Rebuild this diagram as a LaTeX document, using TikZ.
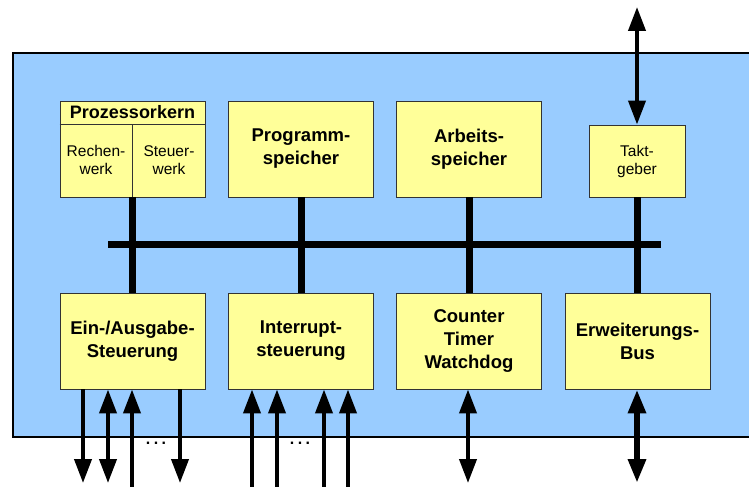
\documentclass[tikz,border=0pt]{standalone}
\usepackage{fontspec}
\setmainfont{Liberation Sans}
\usetikzlibrary{arrows.meta}
\definecolor{chipblue}{HTML}{99CCFF}
\definecolor{unityellow}{HTML}{FFFF99}

\begin{document}
\begin{tikzpicture}[x=1pt,y=-1pt,
  unit/.style={draw=black!80, line width=0.9pt, fill=unityellow,
    minimum width=145pt, minimum height=96pt, inner sep=0pt, align=center,
    font=\fontsize{18.5}{23}\selectfont\bfseries},
  smalltext/.style={font=\fontsize{15.5}{18}\selectfont, align=center, inner sep=0pt},
  dots/.style={font=\fontsize{16}{16}\selectfont\bfseries, inner sep=0pt},
  bus/.style={line width=7pt},
  sigout/.style={line width=4pt, -{Triangle[width=17pt,length=24pt]}},
  sigin/.style={line width=4pt, {Triangle[width=17pt,length=24pt]}-},
  sigboth/.style={line width=4pt, {Triangle[width=17pt,length=24pt]}-{Triangle[width=17pt,length=24pt]}},
]
\useasboundingbox (0,0) rectangle (749,487);
\clip (0,0) rectangle (749,487);

% chip outline
\draw[line width=2pt, fill=chipblue] (13,53) rectangle (760,437);

% internal bus
\coordinate (busL) at (108,244);
\coordinate (busR) at (661,244);
\draw[bus] (busL) -- (busR);

% functional units
\node[unit] (pk) at (132.5,149) {};
\node[unit] (ps) at (301,149) {Programm-\\speicher};
\node[unit] (as) at (469,149) {Arbeits-\\speicher};
\node[unit, minimum width=96pt, minimum height=72pt, font=\fontsize{15.5}{18}\selectfont] (tg) at (637,161) {Takt-\\geber};
\node[unit] (io) at (132.5,341) {Ein-/Ausgabe-\\Steuerung};
\node[unit] (ir) at (301,341) {Interrupt-\\steuerung};
\node[unit] (ct) at (469,341) {Counter\\Timer\\Watchdog};
\node[unit] (eb) at (637.5,341) {Erweiterungs-\\Bus};

% bus taps
\draw[bus] (pk.south) -- (io.north);
\draw[bus] (ps.south) -- (ir.north);
\draw[bus] (as.south) -- (ct.north);
\draw[bus] (tg.south) -- (tg.south |- eb.north);

% processor core subdivisions
\coordinate (pkhead) at (132.5,124);
\draw[draw=black!80, line width=0.9pt] (pk.west |- pkhead) -- (pk.east |- pkhead);
\draw[draw=black!80, line width=0.9pt] (pkhead) -- (pk.south);
\node[font=\fontsize{18}{20}\selectfont\bfseries, inner sep=0pt] (pkt) at (132.5,112.5) {Prozessorkern};
\node[smalltext] (rw) at (96,160) {Rechen-\\werk};
\node[smalltext] (sw) at (169,160) {Steuer-\\werk};

% clock line
\coordinate (clk) at (637,7);
\draw[sigboth] (tg.north) -- (clk);

% I/O lines
\coordinate (io1) at (83,483);
\coordinate (io2) at (108,483);
\coordinate (io3) at (132,487);
\coordinate (io4) at (180,483);
\draw[sigout] (io.south -| io1) -- (io1);
\draw[sigboth] (io.south -| io2) -- (io2);
\draw[sigin] (io.south -| io3) -- (io3);
\draw[sigout] (io.south -| io4) -- (io4);
\node[dots] (iodots) at (156,443) {.\hspace{3.5pt}.\hspace{3.5pt}.};

% interrupt lines
\coordinate (ir1) at (252,487);
\coordinate (ir2) at (277,487);
\coordinate (ir3) at (324,487);
\coordinate (ir4) at (348,487);
\draw[sigin] (ir.south -| ir1) -- (ir1);
\draw[sigin] (ir.south -| ir2) -- (ir2);
\draw[sigin] (ir.south -| ir3) -- (ir3);
\draw[sigin] (ir.south -| ir4) -- (ir4);
\node[dots] (irdots) at (300,443) {.\hspace{3.5pt}.\hspace{3.5pt}.};

% counter and expansion bus lines
\coordinate (ct1) at (468,483);
\coordinate (eb1) at (637,483);
\draw[sigboth] (ct.south -| ct1) -- (ct1);
\draw[sigboth, line width=6.5pt] (eb.south -| eb1) -- (eb1);
\end{tikzpicture}
\end{document}
